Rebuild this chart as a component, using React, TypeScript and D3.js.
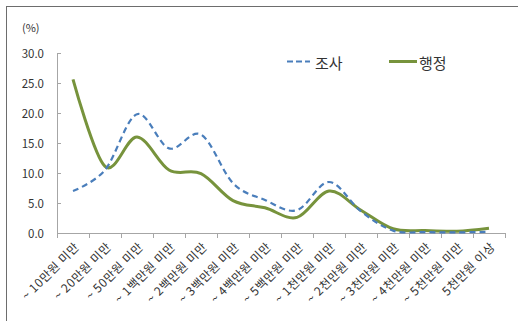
import React from "react";
import * as d3 from "d3";

const categories = [
  "~ 10만원 미만",
  "~ 20만원 미만",
  "~ 50만원 미만",
  "~ 1백만원 미만",
  "~ 2백만원 미만",
  "~ 3백만원 미만",
  "~ 4백만원 미만",
  "~ 5백만원 미만",
  "~ 1천만원 미만",
  "~ 2천만원 미만",
  "~ 3천만원 미만",
  "~ 4천만원 미만",
  "~ 5천만원 미만",
  "5천만원 이상",
];

const survey = [7.0, 10.5, 19.8, 14.1, 16.4, 8.3, 5.5, 3.8, 8.5, 3.6, 0.4, 0.15, 0.1, 0.2];
const admin = [25.6, 11.1, 16.0, 10.5, 9.9, 5.4, 4.2, 2.6, 7.0, 3.8, 0.7, 0.4, 0.3, 0.8];

const yTicks = [0, 5, 10, 15, 20, 25, 30];

const W = 518;
const H = 321;
const margin = { left: 57, right: 13, top: 53, bottom: 88 };
const FONT = "'Noto Sans CJK KR', 'Noto Sans', sans-serif";

export default function App() {
  const x = d3
    .scaleBand<string>()
    .domain(categories)
    .range([margin.left, W - margin.right]);
  const y = d3
    .scaleLinear()
    .domain([0, 30])
    .range([H - margin.bottom, margin.top]);

  const line = d3
    .line<number>()
    .x((_, i) => (x(categories[i]) as number) + x.bandwidth() / 2)
    .y((d) => y(d))
    .curve(d3.curveCardinal.tension(0));

  const x0 = margin.left;
  const y0 = y(0);
  const tickXs = categories.map((c) => x(c) as number).concat([W - margin.right]);

  return (
    <svg
      width={W}
      height={H}
      style={{ position: "absolute", left: 0, top: 0, background: "#fff" }}
      fontFamily={FONT}
    >
      {/* chart frame */}
      <rect x={6.5} y={6.5} width={W + 10} height={H + 10} fill="none" stroke="#6d6d6d" strokeWidth={1} />

      {/* unit label */}
      <text x={22} y={32} fontSize={11} fill="#333">(%)</text>

      {/* y axis */}
      <line x1={x0 + 0.5} x2={x0 + 0.5} y1={y(30)} y2={y0} stroke="#a6a6a6" />
      {yTicks.map((t) => (
        <g key={t}>
          <line x1={x0} x2={x0 + 4} y1={y(t) + 0.5} y2={y(t) + 0.5} stroke="#a6a6a6" />
          <text
            x={44}
            y={y(t)}
            textAnchor="end"
            dominantBaseline="central"
            fontSize={11.5}
            fill="#333"
          >
            {t.toFixed(1)}
          </text>
        </g>
      ))}

      {/* x axis */}
      <line x1={x0} x2={W - margin.right} y1={y0 + 0.5} y2={y0 + 0.5} stroke="#a6a6a6" />
      {tickXs.map((tx, i) => (
        <line key={i} x1={tx + 0.5} x2={tx + 0.5} y1={y0} y2={y0 + 5} stroke="#a6a6a6" />
      ))}
      {categories.map((c) => {
        const cx = (x(c) as number) + x.bandwidth() / 2 + 3;
        const cy = y0 + 11;
        return (
          <text
            key={c}
            x={cx}
            y={cy}
            textAnchor="end"
            dominantBaseline="central"
            fontSize={12}
            letterSpacing={0.6}
            fill="#333"
            transform={`rotate(-45 ${cx} ${cy})`}
          >
            {c}
          </text>
        );
      })}

      {/* series */}
      <path d={line(admin) || ""} fill="none" stroke="#77933c" strokeWidth={3} strokeLinejoin="round" />
      <path
        d={line(survey) || ""}
        fill="none"
        stroke="#4a7ebb"
        strokeWidth={2.2}
        strokeDasharray="6 4"
      />

      {/* legend */}
      <line x1={287} x2={310} y1={61.5} y2={61.5} stroke="#4a7ebb" strokeWidth={2.2} strokeDasharray="6 3" />
      <text x={315} y={62} fontSize={15} fill="#333" dominantBaseline="central">조사</text>
      <line x1={389} x2={417} y1={61.5} y2={61.5} stroke="#77933c" strokeWidth={3} />
      <text x={419} y={62} fontSize={15} fill="#333" dominantBaseline="central">행정</text>
    </svg>
  );
}
